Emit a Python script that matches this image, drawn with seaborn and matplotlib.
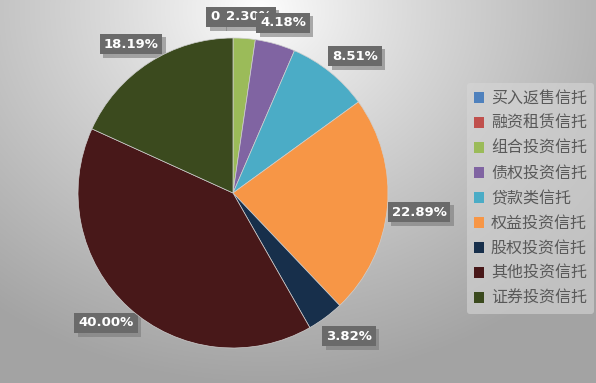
import numpy as np
import matplotlib.pyplot as plt
import matplotlib.patheffects as pe
import seaborn as sns

# categories and shares (%)
categories = ['买入返售信托', '融资租赁信托', '组合投资信托', '债权投资信托', '贷款类信托',
              '权益投资信托', '股权投资信托', '其他投资信托', '证券投资信托']
shares = [0.0, 0.0, 2.30, 4.18, 8.51, 22.89, 3.82, 40.00, 18.19]
labels = ['0', '', '2.30%', '4.18%', '8.51%', '22.89%', '3.82%', '40.00%', '18.19%']
colors = ['#4F81BD', '#C0504D', '#9BBB59', '#8064A2', '#4BACC6',
          '#F79646', '#172F4B', '#481819', '#3B4A1E']

sns.set_theme(style='white')
plt.rcParams['font.family'] = ['Noto Sans CJK SC', 'DejaVu Sans']

W, H = 596, 383
fig = plt.figure(figsize=(W / 100, H / 100), dpi=100)

# radial gradient background
bg = fig.add_axes([0, 0, 1, 1])
yy, xx = np.mgrid[0:H, 0:W]
d = np.sqrt((xx - 260) ** 2 + ((yy - 10) / 0.85) ** 2)
t = np.clip(d / 440, 0, 1) ** 0.85
grey = 1.0 - t * (1.0 - 0.64)
bg.imshow(np.dstack([grey, grey, grey]), aspect='auto', extent=[0, W, H, 0])
bg.set_xlim(0, W)
bg.set_ylim(H, 0)
bg.axis('off')

# pie: center (233,193) radius 155 px
cx, cy, r = 233, 193, 155
ax = fig.add_axes([(cx - r) / W, (H - cy - r) / H, 2 * r / W, 2 * r / H])
ax.pie(shares, colors=colors, startangle=90, counterclock=False,
       wedgeprops=dict(linewidth=0.5, edgecolor='#cfcfcf'))
ax.set_xlim(-1, 1)
ax.set_ylim(-1, 1)
ax.set_aspect('equal')
ax.axis('off')

# data labels (pixel positions of box centres)
label_pos = {0: (215, 17), 2: (249, 17), 3: (283, 23), 4: (355, 56), 5: (419, 212),
             6: (349, 336), 7: (106, 323), 8: (131, 44)}
for i in [0, 2, 3, 4, 5, 6, 7, 8]:
    x, y = label_pos[i]
    txt = bg.text(x, y, labels[i], ha='center', va='center', fontsize=9.5, fontweight='bold',
                  color='white', family='DejaVu Sans',
                  bbox=dict(boxstyle='square,pad=0.3', facecolor='#6a6a6a', edgecolor='none'))
    txt.get_bbox_patch().set_path_effects(
        [pe.SimplePatchShadow(offset=(2.5, -2.5), shadow_rgbFace='#7a7a7a', alpha=0.6), pe.Normal()])

# legend
handles = [plt.Rectangle((0, 0), 1, 1, facecolor=c, edgecolor='none') for c in colors]
leg = fig.legend(handles, categories, loc='upper left', bbox_to_anchor=(467 / W, 1 - 83 / H),
                 borderaxespad=0, frameon=True, fontsize=11.5, handlelength=0.6,
                 handleheight=0.6, handletextpad=0.45, labelspacing=0.5, borderpad=0.45,
                 labelcolor='#595959')
leg.get_frame().set_facecolor('#d6d6d6')
leg.get_frame().set_edgecolor('none')
leg.get_frame().set_alpha(0.6)

fig.savefig('out.png', dpi=100)
